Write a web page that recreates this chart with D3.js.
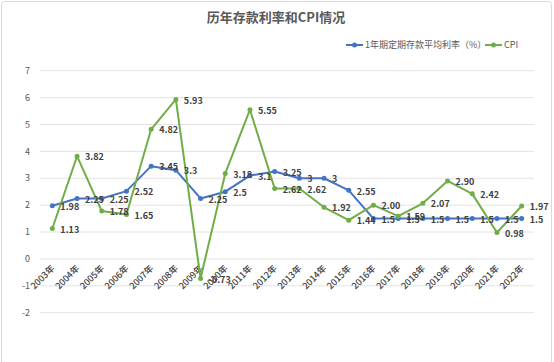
<html>
<head>
<meta charset="utf-8">
<script src="https://cdn.jsdelivr.net/npm/d3@7"></script>
<style>
  body { margin:0; background:#fff; }
  svg { display:block; font-family:"Noto Sans CJK SC","Noto Sans",sans-serif; }
  .grid line { stroke:#e3e3e3; stroke-width:1; }
  .tick-lbl { fill:#595959; font-size:9px; }
  .x-lbl { fill:#404040; font-size:9px; font-weight:500; }
  .dlbl { fill:#404040; font-size:9px; font-weight:bold; }
</style>
</head>
<body>
<div id="container"></div>
<script>
var years = ["2003年","2004年","2005年","2006年","2007年","2008年","2009年","2010年","2011年","2012年",
             "2013年","2014年","2015年","2016年","2017年","2018年","2019年","2020年","2021年","2022年"];
var depositRate = [1.98,2.25,2.25,2.52,3.45,3.3,2.25,2.5,3.1,3.25,3,3,2.55,1.5,1.5,1.5,1.5,1.5,1.5,1.5];
var cpi = [1.13,3.82,1.78,1.65,4.82,5.93,-0.73,3.18,5.55,2.62,2.62,1.92,1.44,2.00,1.59,2.07,2.90,2.42,0.98,1.97];
var yTicks = [-2,-1,0,1,2,3,4,5,6,7];
var seriesNames = ["1年期定期存款平均利率（%）","CPI"];

var W = 554, H = 362;
var svg = d3.select("#container").append("svg").attr("width", W).attr("height", H);

svg.append("rect").attr("x",1.5).attr("y",1.5).attr("width",W-4).attr("height",H+10)
  .attr("rx",3).attr("fill","#fff").attr("stroke","#d9d9d9");

var x = d3.scaleBand().domain(years).range([40, 534]);
var y = d3.scaleLinear().domain([-2, 7]).range([312.7, 70.7]);
var cx = function(i){ return x(years[i]) + x.bandwidth()/2; };

// title
svg.append("text").attr("x", 276).attr("y", 22).attr("text-anchor","middle")
  .attr("fill","#595959").style("font-size","13px").style("font-weight","bold")
  .text("历年存款利率和CPI情况");

// gridlines + y labels
var grid = svg.append("g").attr("class","grid");
grid.selectAll("line").data(yTicks).enter().append("line")
  .attr("x1", 40).attr("x2", 534)
  .attr("y1", function(d){ return y(d); }).attr("y2", function(d){ return y(d); });
svg.append("g").selectAll("text").data(yTicks).enter().append("text")
  .attr("class","tick-lbl").attr("x", 30).attr("y", function(d){ return y(d); })
  .attr("dy","0.35em").attr("text-anchor","end").text(function(d){ return d; });

// x labels
svg.append("g").selectAll("text").data(years).enter().append("text")
  .attr("class","x-lbl").attr("text-anchor","end")
  .attr("transform", function(d,i){ return "translate(" + (cx(i)+3) + "," + (y(0)+10) + ") rotate(-45)"; })
  .text(function(d){ return d; });

var colors = ["#4472C4","#70AD47"];
var series = [
  {vals: depositRate, color: colors[0], fmt: function(v){ return String(v); }},
  {vals: cpi, color: colors[1], fmt: function(v){ return v.toFixed(2); }}
];

var line = d3.line().x(function(d,i){ return cx(i); }).y(function(d){ return y(d); });

series.forEach(function(s){
  var g = svg.append("g");
  g.append("path").datum(s.vals).attr("d", line)
    .attr("fill","none").attr("stroke", s.color).attr("stroke-width", 2).attr("stroke-linejoin","round");
  g.selectAll("circle").data(s.vals).enter().append("circle")
    .attr("cx", function(d,i){ return cx(i); }).attr("cy", function(d){ return y(d); })
    .attr("r", 2.5).attr("fill", s.color);
});
series.forEach(function(s){
  svg.append("g").selectAll("text").data(s.vals).enter().append("text")
    .attr("class","dlbl")
    .attr("x", function(d,i){ return cx(i) + 8; })
    .attr("y", function(d){ return y(d) + 1; })
    .attr("dy","0.35em")
    .text(function(d){ return s.fmt(d); });
});

// legend
var leg = [{x:346, name:seriesNames[0], color:colors[0]},{x:485, name:seriesNames[1], color:colors[1]}];
leg.forEach(function(l){
  var g = svg.append("g");
  g.append("line").attr("x1", l.x).attr("x2", l.x+17).attr("y1",45).attr("y2",45)
    .attr("stroke", l.color).attr("stroke-width", 2);
  g.append("circle").attr("cx", l.x+8.5).attr("cy",45).attr("r",2.5).attr("fill", l.color);
  g.append("text").attr("x", l.x+19).attr("y",45).attr("dy","0.35em")
    .attr("class","tick-lbl").text(l.name);
});
</script>
</body>
</html>
